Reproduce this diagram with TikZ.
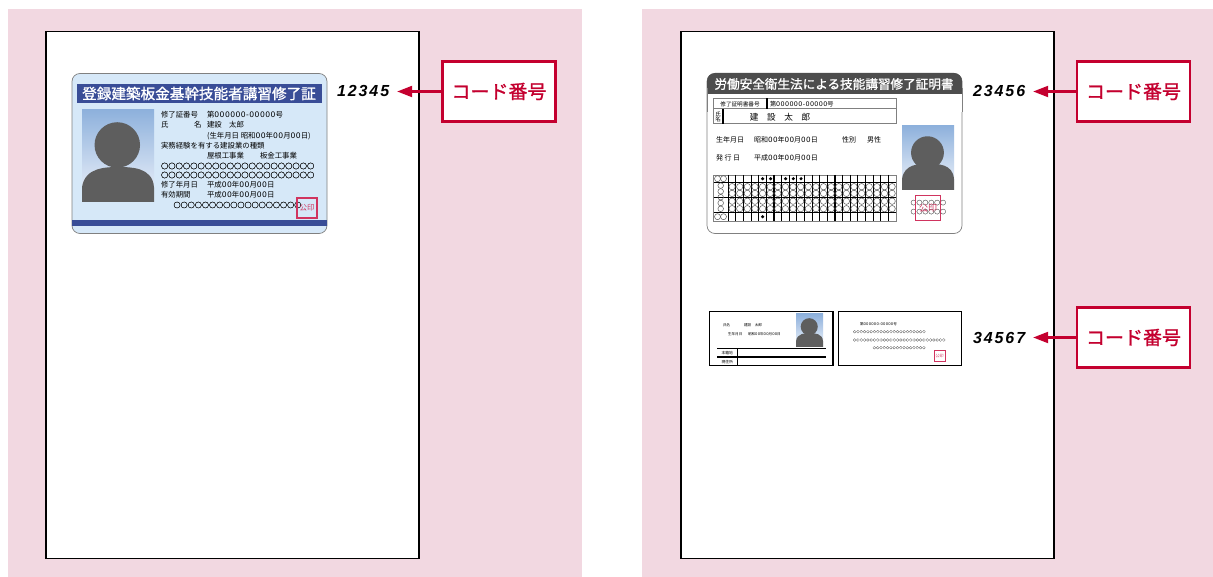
\documentclass[tikz,border=0pt]{standalone}
\usepackage{fontspec}
\setmainfont{Noto Sans CJK JP}
\newfontfamily\codefont[LetterSpace=12]{Liberation Sans}
\newfontfamily\dgf[LetterSpace=6,Scale=1.03]{DejaVu Sans}
\newfontfamily\heavyjp[FakeBold=1.2]{Noto Sans CJK JP}
\newfontfamily\circf[FakeBold=1.4]{Noto Sans CJK JP}
\usetikzlibrary{arrows.meta}
\definecolor{pinkbg}{HTML}{F2D8E1}
\definecolor{codered}{HTML}{C4002F}
\definecolor{stampred}{HTML}{D0345F}
\definecolor{navy}{HTML}{394D97}
\definecolor{cardblue}{HTML}{D6E8F8}
\definecolor{darkhead}{HTML}{4D4D4D}
\definecolor{silh}{HTML}{5E5E5E}
\definecolor{photoa}{HTML}{8EB1DC}
\definecolor{photob}{HTML}{F0F4FB}
\newcommand{\sz}[1]{\fontsize{#1}{#1}\selectfont}
\newcommand{\rng}[1]{{\circf\foreach \n in {1,...,#1}{○}}}
\newcommand{\dg}[1]{{\dgf #1}}
\newcommand{\photo}[6]{%
  \begin{scope}[shift={(#1,#2)}]
    \shade[top color=photoa,bottom color=photob] (0,0) rectangle (#3,#4);
    \fill[silh] ({#3*0.49},{#4*#5}) circle[radius={#3*0.316pt}];
    \fill[silh] (0,#4) -- (0,{#4-(#4-#4*#6)*0.42})
      .. controls ({#3*0.04},{#4*#6}) and ({#3*0.34},{#4*#6}) .. ({#3*0.5},{#4*#6})
      .. controls ({#3*0.68},{#4*#6}) and ({#3*0.98},{#4*#6}) .. (#3,{#4-(#4-#4*#6)*0.42})
      -- (#3,#4) -- cycle;
  \end{scope}}
\tikzset{
  every node/.style={inner sep=0pt,outer sep=0pt},
  tx/.style={anchor=west,text=black,font=\sz{#1}},
  tx/.default=7.4,
  codenum/.style={anchor=west,font=\codefont\bfseries\itshape\sz{16},text=black,inner xsep=0pt},
  codebox/.style={draw=codered,line width=2.1pt,fill=white,minimum width=113pt,minimum height=60pt,
    text=codered,font=\heavyjp\sz{19}},
  codearrow/.style={draw=codered,line width=2.1pt,-{Triangle[length=15pt,width=11pt]},shorten >=8pt},
  pagesheet/.style={draw=black,fill=white,line width=1.4pt},
  cardedge/.style={draw=black!50,line width=.7pt},
  thinrule/.style={draw=black!50,line width=1pt},
  blackrule/.style={draw=black,line width=1.1pt},
  stamp/.style={draw=stampred,line width=1.4pt,fill=none,text=stampred,anchor=center},
  smallcard/.style={draw=black,line width=1.3pt,fill=white},
  gridring/.style={draw=black!65,line width=.5pt},
}
\begin{document}
\begin{tikzpicture}[x=1pt,y=-1pt]
\useasboundingbox (0,0) rectangle (1213,577);
\fill[pinkbg] (8,9) rectangle (582,577);
\fill[pinkbg] (642,9) rectangle (1213,577);
\draw[pagesheet] (46,31.5) rectangle (419,558.5);
\draw[pagesheet] (681,31.5) rectangle (1054,558.5);

% ---- card 1
\draw[cardedge,fill=cardblue,rounded corners=8pt] (72,73.5) rectangle (327,233.5);
\fill[navy] (77,84) rectangle (322,103);
\fill[navy] (72.3,220) rectangle (326.7,226);
\node[anchor=center,text=white,font=\heavyjp\sz{14.6}] (title1) at (199,93.5) {登録建築板金基幹技能者講習修了証};
\photo{82}{110}{72}{92}{0.38}{0.62}
\node[tx] (a1) at (161,115) {修了証番号};
\node[tx] (a1b) at (207,115) {第\dg{000000-00000}号};
\node[tx] (a2) at (161,125) {氏};
\node[tx] (a2b) at (194,125) {名};
\node[tx] (a2c) at (207,125) {建設　太郎};
\node[tx] (a3) at (207,136) {(生年月日 昭和\dg{00}年\dg{00}月\dg{00}日)};
\node[tx] (a4) at (161,146) {実務経験を有する建設業の種類};
\node[tx] (a5) at (207,156) {屋根工事業};
\node[tx] (a5b) at (260,156) {板金工事業};
\node[tx=7.3] (a6) at (161,166) {\rng{21}};
\node[tx=7.3] (a7) at (161,175) {\rng{21}};
\node[tx] (a8) at (161,185) {修了年月日};
\node[tx] (a8b) at (207,185) {平成\dg{00}年\dg{00}月\dg{00}日};
\node[tx] (a9) at (161,195) {有効期間};
\node[tx] (a9b) at (207,195) {平成\dg{00}年\dg{00}月\dg{00}日};
\node[tx=7.1] (a10) at (173.5,205) {\rng{18}};
\node[stamp,minimum width=20pt,minimum height=20pt,font=\sz{7.5}] (st1) at (307,208) {公印};

% ---- card 2
\draw[cardedge,fill=white,rounded corners=8pt] (707,73.5) rectangle (962,233.5);
\fill[darkhead,rounded corners=8pt] (707,110) -- (707,73) -- (962,73) -- (962,110) -- cycle;
\fill[white] (707.5,94) rectangle (961.5,112);
\draw[cardedge] (707,88) -- (707,112);
\draw[cardedge] (962,88) -- (962,112);
\node[anchor=center,text=white,font=\heavyjp\sz{12.6}] (title2) at (834,84) {労働安全衛生法による技能講習修了証明書};
\draw[thinrule] (713.5,98.5) rectangle (896,124);
\draw[thinrule] (713.5,109) -- (896,109);
\draw[blackrule] (767,98.5) -- (767,109);
\draw[blackrule] (723,109) -- (723,124);
\node[anchor=center,font=\sz{5.6}] (b0) at (740,104) {修了証明書番号};
\node[tx=6.2] (b0b) at (770,104) {第\dg{000000-00000}号};
\node[anchor=center,font=\sz{5.5},align=center] (b1) at (718,116.5) {氏\\[-.6pt]名};
\node[anchor=center,font=\sz{8.6}] (b2) at (780,117) {建　設　太　郎};
\node[tx=7] (b3) at (716,140) {生年月日};
\node[tx=7] (b3b) at (754,140) {昭和\dg{00}年\dg{00}月\dg{00}日};
\node[tx=7] (b3c) at (842,140) {性別};
\node[tx=7] (b3d) at (867,140) {男性};
\node[tx=7] (b4) at (716,158) {発 行 日};
\node[tx=7] (b4b) at (754,158) {平成\dg{00}年\dg{00}月\dg{00}日};
\photo{902}{126}{52}{64}{0.417}{0.59}
% grid
\draw[thinrule,line width=.6pt] (713.5,175) rectangle (896,221);
\foreach \i in {0,...,21}{
  \pgfmathsetmacro\xx{728.3+\i*7.62}
  \draw[blackrule] (\xx,175) -- (\xx,221);
}
\foreach \yy in {182.5,197.5,212.7}{\draw[blackrule] (713.5,\yy) -- (896,\yy);}
\foreach \i in {0,...,21}{
  \pgfmathsetmacro\xx{732.1+\i*7.62}
  \foreach \yy in {186.7,193.4,201.2,208.7}{
    \draw[gridring] (\xx,\yy) circle[radius=3.2pt];
  }
}
\foreach \yy in {185.6,191.4,197.2,203,208.8}{\draw[gridring] (720.7,\yy) circle[radius=2.8pt];}
\foreach \yy in {178.7,216.7}{
  \draw[gridring] (717.5,\yy) circle[radius=3pt];
  \draw[gridring] (723.5,\yy) circle[radius=3pt];
}
\foreach \xx in {762.6,770.6,785.6,793.3,801}{\fill[black] (\xx,178.7) circle[radius=1.7pt];}
\fill[black] (762.6,216.7) circle[radius=1.7pt];
\node[anchor=center,font=\sz{5.9},text=black!60] (b5) at (928.3,202.6) {\rng{6}};
\node[anchor=center,font=\sz{5.9},text=black!60] (b6) at (928.3,211.6) {\rng{6}};
\node[stamp,minimum width=25pt,minimum height=25pt,font=\sz{9}] (st2) at (928.2,208) {公印};

% ---- cards 3, 4
\draw[smallcard] (709.8,311.8) rectangle (833,365.8);
\photo{796}{314}{27}{33}{0.385}{0.58}
\draw[blackrule] (717,348.3) -- (826,348.3);
\draw[blackrule] (717,357) -- (826,357);
\draw[blackrule] (737.7,348.3) -- (737.7,365.8);
\node[tx=3.6] (c1) at (723,325) {氏名};
\node[tx=3.6] (c1b) at (744,325) {建設　太郎};
\node[tx=3.6] (c2) at (728,334) {生年月日};
\node[tx=3.6] (c2b) at (748,334) {昭和\dg{00}年\dg{00}月\dg{00}日};
\node[tx=3.8] (c3) at (721.5,352.7) {本籍地};
\node[tx=3.8] (c4) at (721.5,361.7) {現住所};
\draw[smallcard] (838.3,311.8) rectangle (961.5,365.8);
\node[tx=3.6] (d1) at (860,324) {第\dg{000000-00000}号};
\node[tx=3.3,text=black!55] (d2) at (853,331.7) {\rng{22}};
\node[tx=3.3,text=black!55] (d3) at (853,340) {\rng{28}};
\node[tx=3.3,text=black!55] (d4) at (872.7,347.7) {\rng{16}};
\node[stamp,line width=.8pt,minimum width=11pt,minimum height=11pt,font=\sz{4}] (st4) at (939.5,355.5) {公印};

% ---- codes and labels
\node[codenum] (code1) at (337,91) {12345\hspace{4pt}};
\node[codenum] (code2) at (973,91) {23456\hspace{4pt}};
\node[codenum] (code3) at (973,338) {34567\hspace{4pt}};
\node[codebox] (lab1) at (499,91.5) {コード番号};
\node[codebox] (lab2) at (1133.5,91.5) {コード番号};
\node[codebox] (lab3) at (1133.5,337.5) {コード番号};
\draw[codearrow] (lab1.west) -- (lab1.west -| code1.east);
\draw[codearrow] (lab2.west) -- (lab2.west -| code2.east);
\draw[codearrow] (lab3.west) -- (lab3.west -| code3.east);
\end{tikzpicture}
\end{document}
